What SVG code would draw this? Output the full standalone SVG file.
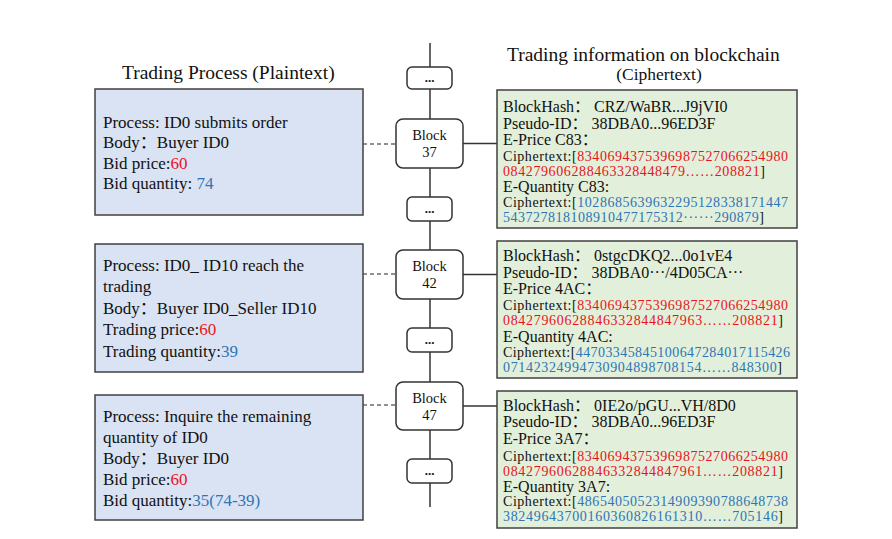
<svg xmlns="http://www.w3.org/2000/svg" width="892" height="539" viewBox="0 0 892 539">
<style>
text{font-family:"Liberation Serif","Noto Sans CJK SC",serif;fill:#111}
.h{font-size:19.5px}
.h2{font-size:17.5px;text-anchor:middle}
.l{font-size:17px}
.r{font-size:16px}
.s{font-size:14px}
.b{font-size:14.5px;text-anchor:middle}
.d{font-size:13px;text-anchor:middle;font-weight:bold}
.red{fill:#e8141c}
.blue{fill:#2e75b6}
.pb{fill:#dae3f3;stroke:#404040;stroke-width:1.5}
.gb{fill:#e2efda;stroke:#404040;stroke-width:1.5}
.blk{fill:#fff;stroke:#333;stroke-width:1.5}
.ln{stroke:#333;stroke-width:1.5;fill:none}
.dash{stroke:#222;stroke-width:1.2;stroke-dasharray:4,3;fill:none}
</style>
<rect width="892" height="539" fill="#fff"/>
<g id="headings">
<text class="h" x="122" y="79">Trading Process (Plaintext)</text>
<text class="h" x="507" y="61">Trading information on blockchain</text>
<text class="h2" x="659" y="80">(Ciphertext)</text>
</g>
<g id="connectors">
<line class="ln" x1="430" y1="43" x2="430" y2="507"/>
<line class="dash" x1="363" y1="144" x2="396" y2="144"/>
<line class="dash" x1="363" y1="274" x2="396" y2="274"/>
<line class="dash" x1="363" y1="405" x2="396" y2="405"/>
<line class="ln" x1="463" y1="143.5" x2="497" y2="143.5"/>
<line class="ln" x1="463" y1="274.5" x2="497" y2="274.5"/>
<line class="ln" x1="463" y1="406" x2="497" y2="406"/>
</g>
<g id="dots1"><rect class="blk" x="407" y="67" width="45" height="22" rx="5"/><text class="d" x="429.5" y="82">...</text></g>
<g id="block37"><rect class="blk" x="396" y="119" width="67" height="49" rx="7"/><text class="b" x="429.5" y="140">Block</text><text class="b" x="429.5" y="157">37</text></g>
<g id="dots2"><rect class="blk" x="407" y="197" width="45" height="24" rx="5"/><text class="d" x="429.5" y="213">...</text></g>
<g id="block42"><rect class="blk" x="396" y="250" width="67" height="49" rx="7"/><text class="b" x="429.5" y="271">Block</text><text class="b" x="429.5" y="288">42</text></g>
<g id="dots3"><rect class="blk" x="407" y="328" width="45" height="24" rx="5"/><text class="d" x="429.5" y="344">...</text></g>
<g id="block47"><rect class="blk" x="396" y="382" width="67" height="48" rx="7"/><text class="b" x="429.5" y="403">Block</text><text class="b" x="429.5" y="420">47</text></g>
<g id="dots4"><rect class="blk" x="407" y="459" width="45" height="24" rx="5"/><text class="d" x="429.5" y="475">...</text></g>

<g id="process1">
<rect class="pb" x="95" y="89" width="268" height="126"/>
<text class="l" x="103" y="128">Process: ID0 submits order</text>
<text class="l" x="103" y="148">Body：Buyer ID0</text>
<text class="l" x="103" y="169">Bid price:<tspan class="red">60</tspan></text>
<text class="l" x="103" y="189">Bid quantity: <tspan class="blue">74</tspan></text>
</g>
<g id="process2">
<rect class="pb" x="95" y="244" width="268" height="128"/>
<text class="l" x="103" y="271">Process: ID0_ ID10 reach the</text>
<text class="l" x="103" y="292">trading</text>
<text class="l" x="103" y="314">Body：Buyer ID0_Seller ID10</text>
<text class="l" x="103" y="335">Trading price:<tspan class="red">60</tspan></text>
<text class="l" x="103" y="357">Trading quantity:<tspan class="blue">39</tspan></text>
</g>
<g id="process3">
<rect class="pb" x="95" y="395" width="268" height="125"/>
<text class="l" x="103" y="422">Process: Inquire the remaining</text>
<text class="l" x="103" y="443">quantity of ID0</text>
<text class="l" x="103" y="464">Body：Buyer ID0</text>
<text class="l" x="103" y="485">Bid price:<tspan class="red">60</tspan></text>
<text class="l" x="103" y="506">Bid quantity:<tspan class="blue">35(74-39)</tspan></text>
</g>

<g id="chain1">
<rect class="gb" x="497" y="90" width="300" height="138"/>
<text class="r" x="503" y="112">BlockHash： CRZ/WaBR...J9jVI0</text>
<text class="r" x="503" y="129">Pseudo-ID： 38DBA0...96ED3F</text>
<text class="r" x="503" y="145">E-Price C83：</text>
<text class="s" x="503" y="161" textLength="285" lengthAdjust="spacing">Ciphertext:[<tspan class="red">8340694375396987527066254980</tspan></text>
<text class="s red" x="503" y="176" textLength="262" lengthAdjust="spacing">084279606288463328448479……208821<tspan fill="#111">]</tspan></text>
<text class="r" x="503" y="192">E-Quantity C83:</text>
<text class="s" x="503" y="207" textLength="285" lengthAdjust="spacing">Ciphertext:[<tspan class="blue">1028685639632295128338171447</tspan></text>
<text class="s blue" x="503" y="222" textLength="261" lengthAdjust="spacing">543727818108910477175312······290879<tspan fill="#111">]</tspan></text>
</g>
<g id="chain2">
<rect class="gb" x="497" y="241" width="300" height="137"/>
<text class="r" x="503" y="261">BlockHash： 0stgcDKQ2...0o1vE4</text>
<text class="r" x="503" y="278">Pseudo-ID： 38DBA0···/4D05CA···</text>
<text class="r" x="503" y="294">E-Price 4AC：</text>
<text class="s" x="503" y="310" textLength="285" lengthAdjust="spacing">Ciphertext:[<tspan class="red">8340694375396987527066254980</tspan></text>
<text class="s red" x="503" y="325" textLength="280" lengthAdjust="spacing">08427960628846332844847963……208821<tspan fill="#111">]</tspan></text>
<text class="r" x="503" y="342">E-Quantity 4AC:</text>
<text class="s" x="503" y="357" textLength="287" lengthAdjust="spacing">Ciphertext:[<tspan class="blue">44703345845100647284017115426</tspan></text>
<text class="s blue" x="503" y="372" textLength="279" lengthAdjust="spacing">07142324994730904898708154……848300<tspan fill="#111">]</tspan></text>
</g>
<g id="chain3">
<rect class="gb" x="497" y="391" width="300" height="137"/>
<text class="r" x="503" y="411">BlockHash： 0IE2o/pGU...VH/8D0</text>
<text class="r" x="503" y="427">Pseudo-ID： 38DBA0...96ED3F</text>
<text class="r" x="503" y="444">E-Price 3A7：</text>
<text class="s" x="503" y="461" textLength="285" lengthAdjust="spacing">Ciphertext:[<tspan class="red">8340694375396987527066254980</tspan></text>
<text class="s red" x="503" y="476" textLength="280" lengthAdjust="spacing">08427960628846332844847961……208821<tspan fill="#111">]</tspan></text>
<text class="r" x="503" y="492">E-Quantity 3A7:</text>
<text class="s" x="503" y="506" textLength="285" lengthAdjust="spacing">Ciphertext:[<tspan class="blue">4865405052314909390788648738</tspan></text>
<text class="s blue" x="503" y="521" textLength="280" lengthAdjust="spacing">38249643700160360826161310……705146<tspan fill="#111">]</tspan></text>
</g>
</svg>
